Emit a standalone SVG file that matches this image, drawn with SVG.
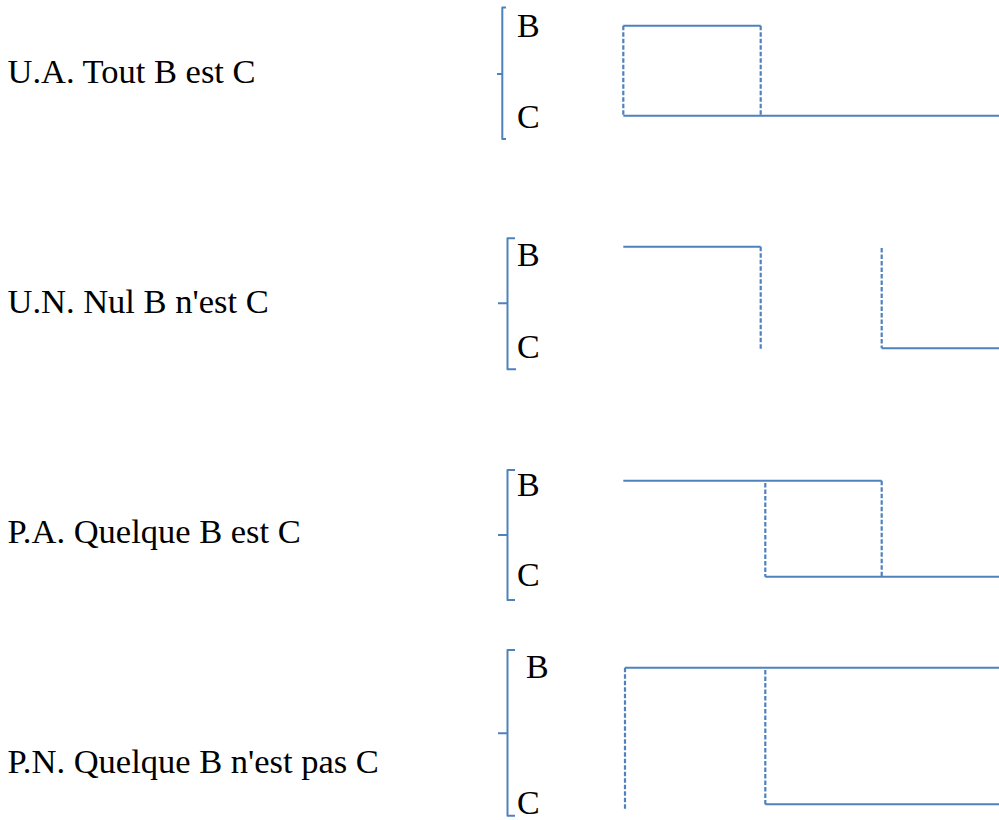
<svg xmlns="http://www.w3.org/2000/svg" width="999" height="820" viewBox="0 0 999 820">
<style>
text{font-family:"Liberation Serif","Times New Roman",Times,serif;fill:#000}
.lbl{font-size:34.5px}
.bc{font-size:34px}
.br{fill:none;stroke:#4f81bd;stroke-width:2;stroke-linejoin:round}
.s{fill:none;stroke:#4f81bd;stroke-width:2}
.d{fill:none;stroke:#4f81bd;stroke-width:2.2;stroke-dasharray:4.5 2}
</style>
<rect width="999" height="820" fill="#fff"/>
<g id="ua">
<text class="lbl" x="7.5" y="82.7">U.A. Tout B est C</text>
<path class="br" d="M506 7.5H502.3V139H506M497 74H502.3"/>
<text class="bc" x="517" y="36.7">B</text>
<text class="bc" x="517" y="127.5">C</text>
</g>
<g id="un">
<text class="lbl" x="7.5" y="312.7">U.N. Nul B n'est C</text>
<path class="br" d="M515 238.3H507.5V369.3H516M498 303.3H507.5"/>
<text class="bc" x="517" y="265.7">B</text>
<text class="bc" x="517" y="357.5">C</text>
</g>
<g id="pa">
<text class="lbl" x="7.5" y="542.7">P.A. Quelque B est C</text>
<path class="br" d="M515 470H507.5V600H515M498 535H507.5"/>
<text class="bc" x="517" y="495.7">B</text>
<text class="bc" x="517" y="586">C</text>
</g>
<g id="pn">
<text class="lbl" x="7.5" y="772.7">P.N. Quelque B n'est pas C</text>
<path class="br" d="M515 650H507.5V815.7H515M498 733.3H507.5"/>
<text class="bc" x="526" y="678.3">B</text>
<text class="bc" x="517" y="814">C</text>
</g>
<g id="connectors">
<path class="s" d="M623.3 25.7H760.7M623.3 115.7H999"/>
<path class="d" d="M623.3 25.7V115.7M760.7 25.7V115.7"/>
<path class="s" d="M623.3 246.7H760.7M881.7 348.3H999"/>
<path class="d" d="M760.7 246.7V349M881.7 248V348.3"/>
<path class="s" d="M623.3 480.7H881.7M765.3 576.7H999"/>
<path class="d" d="M765.3 483V576.7M881.7 480.7V576.7"/>
<path class="s" d="M625 667.7H999M765.3 804.3H999"/>
<path class="d" d="M625 667.7V810M765.3 670V804.3"/>
</g>
</svg>
